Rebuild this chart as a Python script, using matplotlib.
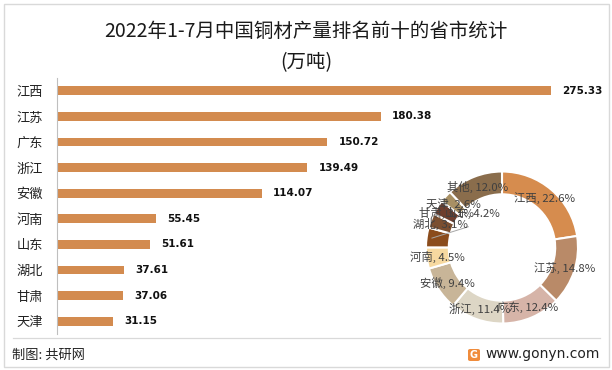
import numpy as np
import matplotlib
matplotlib.use("Agg")
import matplotlib.pyplot as plt
from matplotlib.patches import Rectangle, FancyBboxPatch

plt.rcParams['font.family'] = ['Noto Sans CJK SC', 'DejaVu Sans']

# ---------------- data ----------------
provinces = ["江西", "江苏", "广东", "浙江", "安徽", "河南", "山东", "湖北", "甘肃", "天津"]
output_wt = [275.33, 180.38, 150.72, 139.49, 114.07, 55.45, 51.61, 37.61, 37.06, 31.15]

pie_labels = ["江西", "江苏", "广东", "浙江", "安徽", "河南", "山东", "湖北", "甘肃", "天津", "其他"]
pie_pct = [22.6, 14.8, 12.4, 11.4, 9.4, 4.5, 4.2, 3.1, 3.1, 2.6, 12.0]
pie_colors = ["#D68C4E", "#B98A68", "#D6B4A8", "#DDD6C5", "#C8B598", "#F7D9A0",
              "#8B4C1C", "#7B4F30", "#6E3E2E", "#A89064", "#8A6D4C"]

title_line1 = "2022年1-7月中国铜材产量排名前十的省市统计"
title_line2 = "(万吨)"
source_text = "制图: 共研网"
site_text = "www.gonyn.com"

W, H = 612, 370
fig = plt.figure(figsize=(W / 100, H / 100), dpi=100)
fig.patch.set_facecolor("white")

def fx(px):
    return px / W

def fy(py):
    return 1 - py / H

# outer border
fig.add_artist(Rectangle((fx(4), fy(367)), fx(605), (363) / H, transform=fig.transFigure,
                         fill=False, edgecolor="#D9D9D9", linewidth=1.0))
# footer separator
fig.add_artist(plt.Line2D([fx(13), fx(600)], [fy(338), fy(338)], transform=fig.transFigure,
                          color="#D9D9D9", linewidth=0.9))

# titles
fig.text(fx(306), fy(31), title_line1, ha="center", va="center", fontsize=14, color="#1a1a1a")
fig.text(fx(306), fy(63), title_line2, ha="center", va="center", fontsize=14, color="#1a1a1a")

# footer
fig.text(fx(12), fy(355), source_text, ha="left", va="center", fontsize=9.5, color="#222222")
fig.text(fx(600), fy(354), site_text, ha="right", va="center", fontsize=10, color="#222222",
         family=["DejaVu Sans"])
fig.add_artist(FancyBboxPatch((fx(468), fy(361)), fx(12), 12 / H, transform=fig.transFigure,
                              boxstyle="round,pad=0.0,rounding_size=0.004",
                              facecolor="#F08C3C", edgecolor="none"))
fig.text(fx(474), fy(355), "G", ha="center", va="center", fontsize=7, color="white",
         fontweight="bold", family=["DejaVu Sans"])

# ---------------- bar chart ----------------
ax = fig.add_axes([fx(57), 36 / H, (551 - 57) / W, (334 - 78) / H])
y = np.arange(len(provinces))
ax.barh(y, output_wt, height=0.35, color="#D38B4F")
ax.set_ylim(len(provinces) - 0.5, -0.5)
ax.set_xlim(0, max(output_wt))
ax.set_yticks(y)
ax.set_yticklabels(provinces, fontsize=9.5, color="#222222")
ax.tick_params(axis="y", length=0, pad=10)
ax.set_xticks([])
for s in ["top", "right", "bottom"]:
    ax.spines[s].set_visible(False)
ax.spines["left"].set_color("#BFBFBF")
ax.spines["left"].set_linewidth(0.8)
ax.patch.set_alpha(0)
for yi, v in zip(y, output_wt):
    ax.annotate(f"{v:.2f}", xy=(v, yi), xytext=(8, 0), textcoords="offset points",
                ha="left", va="center", fontsize=7.5, fontweight="bold",
                color="#111111", family=["DejaVu Sans"], annotation_clip=False)

# ---------------- donut ----------------
cx, cy, R = 502, 247.5, 76
pax = fig.add_axes([fx(cx - R), (H - cy - R) / H, 2 * R / W, 2 * R / H])
wedges, _ = pax.pie(pie_pct, colors=pie_colors, startangle=90, counterclock=False,
                    radius=1.0, wedgeprops=dict(width=0.30, edgecolor="white", linewidth=1.5))
pax.set_xlim(-1, 1)
pax.set_ylim(-1, 1)
pax.set_aspect("equal")
pax.axis("off")

cum = np.cumsum([0] + pie_pct[:-1])
tot = sum(pie_pct)
for i, (lab, p) in enumerate(zip(pie_labels, pie_pct)):
    mid = (cum[i] + p / 2) / tot * 360.0  # clockwise from top
    ang = np.deg2rad(90 - mid)
    r = 0.86
    tx, ty = r * np.cos(ang), r * np.sin(ang)
    if lab == "山东":
        # label pushed inward with leader line (as in original)
        a2 = np.deg2rad(90 - 319)
        tx, ty = 0.60 * np.cos(a2), 0.60 * np.sin(a2)
        ex, ey = 0.93 * np.cos(ang), 0.93 * np.sin(ang)
        pax.plot([tx - 0.05, ex], [ty - 0.18, ey], color="#A6A6A6", linewidth=0.7)
    pax.text(tx, ty, f"{lab}, {p:.1f}%", ha="center", va="center", fontsize=8.2,
             color="#404040", clip_on=False)

fig.savefig("out.png", dpi=100, facecolor="white")
